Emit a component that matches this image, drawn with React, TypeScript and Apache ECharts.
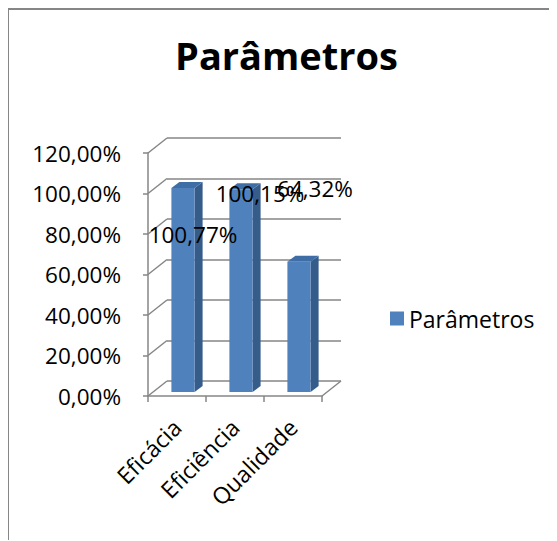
import React, { useEffect, useRef } from "react";
import * as echarts from "echarts";

const titleText = "Parâmetros";
const seriesName = "Parâmetros";
const categories = ["Eficácia", "Eficiência", "Qualidade"];
const values = [100.77, 100.15, 64.32];
const yTicks = [0, 20, 40, 60, 80, 100, 120];

// styling (not data)
const FONT = "'Open Sans', 'Noto Sans', sans-serif";
const FRONT = "#4F81BD";
const SIDE = "#365C8A";
const TOP = "#3F6EA6";
const GRID = "#868686";
const DEPTH_X = 19;
const DEPTH_Y = -15;
const FACE_DX = 6;
const FACE_DY = -4;
const SIDE_X = 8;
const SIDE_Y = -6;
const labelNudges = [
  [10, 47],
  [19, 4],
  [16, -73],
];

const fmt = (v: number) => v.toFixed(2).replace(".", ",") + "%";

export default function App() {
  const ref = useRef<HTMLDivElement>(null);
  useEffect(() => {
    if (!ref.current) return;
    const chart = echarts.init(ref.current, null, { renderer: "svg" });
    const option: any = {
      animation: false,
      backgroundColor: "#fff",
      title: {
        text: titleText,
        left: 279.5,
        textAlign: "center",
        top: 29,
        padding: 0,
        textStyle: { fontFamily: FONT, fontWeight: 700, fontSize: 38, color: "#000" },
      },
      legend: {
        data: [{ name: seriesName, icon: "rect" }],
        left: 383,
        top: 300,
        itemWidth: 14,
        itemHeight: 14,
        padding: 0,
        textStyle: { fontFamily: FONT, fontSize: 23, color: "#000" },
      },
      graphic: [
        { type: "line", shape: { x1: 1, y1: 0, x2: 1, y2: 540 }, style: { stroke: GRID, lineWidth: 2 } },
        { type: "line", shape: { x1: 0, y1: 2, x2: 560, y2: 2 }, style: { stroke: GRID, lineWidth: 2 } },
      ],
      grid: [
        { left: 141, top: 146, right: 234, bottom: 144 },
        { left: 141 + DEPTH_X, top: 146 + DEPTH_Y, right: 234 - DEPTH_X, bottom: 144 - DEPTH_Y },
      ],
      xAxis: [
        {
          gridIndex: 0,
          type: "category",
          data: categories,
          axisLine: { lineStyle: { color: GRID, width: 1.5 } },
          axisTick: { show: true, length: 6, lineStyle: { color: GRID, width: 1.5 } },
          axisLabel: { rotate: 45, margin: 27, fontFamily: FONT, fontSize: 23, color: "#000" },
        },
        {
          gridIndex: 1,
          type: "category",
          data: categories,
          show: false,
        },
      ],
      yAxis: [
        {
          gridIndex: 0,
          type: "value",
          min: 0,
          max: 120,
          interval: 20,
          axisLine: { show: true, lineStyle: { color: GRID, width: 1.5 } },
          axisTick: { show: true, inside: false, length: 5, lineStyle: { color: GRID, width: 1.5 } },
          splitLine: { show: false },
          axisLabel: { margin: 27, fontFamily: FONT, fontSize: 22.5, color: "#000", formatter: (v: number) => fmt(v) },
        },
        {
          gridIndex: 1,
          type: "value",
          min: 0,
          max: 120,
          interval: 20,
          axisLine: { show: false },
          axisTick: { show: false },
          axisLabel: { show: false },
          splitLine: { show: true, lineStyle: { color: GRID, width: 1.5 } },
        },
      ],
      series: [
        {
          type: "custom",
          name: "walls",
          xAxisIndex: 0,
          yAxisIndex: 0,
          silent: true,
          data: yTicks.map((v) => [0, v]),
          renderItem: (params: any, api: any) => {
            const v = api.value(1);
            const p = api.coord([0, v]);
            const band = api.size([1, 0])[0];
            const x = p[0] - band / 2;
            const children: any[] = [
              {
                type: "line",
                shape: { x1: x, y1: p[1], x2: x + DEPTH_X, y2: p[1] + DEPTH_Y },
                style: { stroke: GRID, lineWidth: 1.5 },
              },
            ];
            if (v === 0) {
              const xr = x + band * categories.length;
              children.push({
                type: "line",
                shape: { x1: xr, y1: p[1], x2: xr + DEPTH_X, y2: p[1] + DEPTH_Y },
                style: { stroke: GRID, lineWidth: 1.5 },
              });
            }
            return { type: "group", children };
          },
        },
        {
          type: "custom",
          name: seriesName,
          xAxisIndex: 0,
          yAxisIndex: 0,
          itemStyle: { color: FRONT },
          data: values.map((v, i) => [i, v]),
          z: 5,
          renderItem: (params: any, api: any) => {
            const i = api.value(0);
            const v = api.value(1);
            const base = api.coord([i, 0]);
            const top = api.coord([i, v]);
            const band = api.size([1, 0])[0];
            const w = band * 0.4;
            const fx = base[0] + FACE_DX - w / 2;
            const fy0 = base[1] + FACE_DY;
            const fy1 = top[1] + FACE_DY;
            return {
              type: "group",
              children: [
                {
                  type: "polygon",
                  shape: { points: [[fx + w, fy1], [fx + w + SIDE_X, fy1 + SIDE_Y], [fx + w + SIDE_X, fy0 + SIDE_Y], [fx + w, fy0]] },
                  style: { fill: SIDE },
                },
                {
                  type: "polygon",
                  shape: { points: [[fx, fy1], [fx + SIDE_X, fy1 + SIDE_Y], [fx + w + SIDE_X, fy1 + SIDE_Y], [fx + w, fy1]] },
                  style: { fill: TOP },
                },
                {
                  type: "rect",
                  shape: { x: fx, y: fy1, width: w, height: fy0 - fy1 },
                  style: { fill: FRONT },
                },
              ],
            };
          },
        },
        {
          type: "custom",
          name: "labels",
          xAxisIndex: 0,
          yAxisIndex: 0,
          z: 10,
          silent: true,
          data: values.map((v, i) => [i, v]),
          renderItem: (params: any, api: any) => {
            const i = api.value(0);
            const v = api.value(1);
            const top = api.coord([i, v]);
            const nudge = labelNudges[i];
            return {
              type: "text",
              x: top[0] + FACE_DX + nudge[0],
              y: top[1] + FACE_DY + nudge[1],
              style: {
                text: fmt(v),
                fill: "#000",
                font: `22.5px ${FONT}`,
                align: "center",
                verticalAlign: "middle",
              },
            };
          },
        },
      ],
    };
    chart.setOption(option);
    return () => chart.dispose();
  }, []);
  return (
    <div
      ref={ref}
      style={{ width: 549, height: 533, position: "relative", left: -1, top: -1 }}
    />
  );
}
